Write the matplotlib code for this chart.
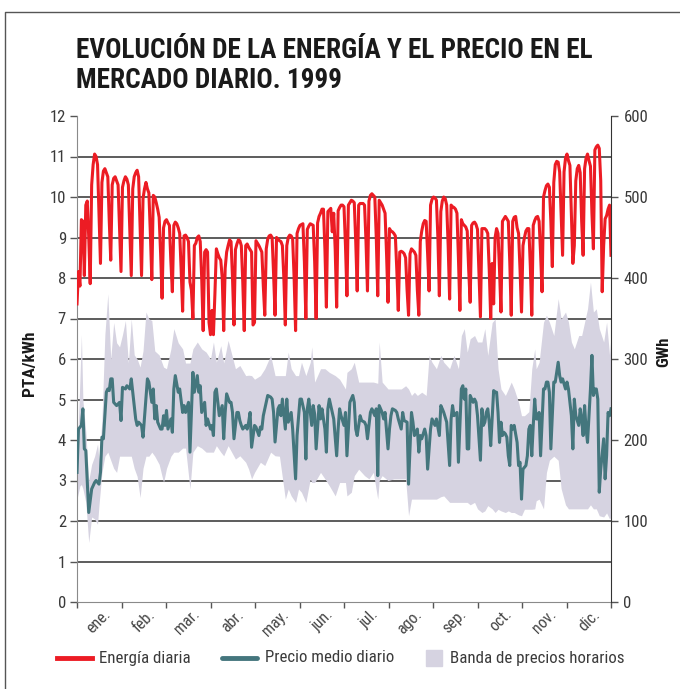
import os
import matplotlib.pyplot as plt
from matplotlib import font_manager
from matplotlib.font_manager import FontProperties
from matplotlib.lines import Line2D
from matplotlib.patches import Rectangle
import numpy as np

meses = ["ene.", "feb.", "mar.", "abr.", "may.", "jun.",
         "jul.", "ago.", "sep.", "oct.", "nov.", "dic."]

# Energia diaria (GWh), 1999, un valor por dia
energia_ene = [368, 408, 390, 472, 470, 403, 490, 495, 450, 393, 515, 540, 553, 550, 540, 480,
               418, 518, 532, 535, 530, 525, 470, 422, 515, 523, 525, 520, 515, 460, 408]
energia_feb = [512, 520, 525, 522, 515, 460, 403, 510, 525, 530, 533, 525, 465, 403,
               498, 510, 518, 510, 505, 455, 398, 502, 500, 493, 485, 475, 430, 375]
energia_mar = [462, 470, 472, 468, 465, 420, 383, 465, 469, 467, 462, 455, 410, 359, 452, 453,
               450, 445, 395, 385, 350, 440, 443, 450, 452, 445, 400, 335, 432, 435, 432]
energia_abr = [345, 330, 360, 330, 380, 436, 430, 425, 422, 400, 335, 412, 432, 440, 447,
               445, 400, 342, 435, 442, 447, 446, 440, 395, 335, 440, 442, 438, 435, 432]
energia_may = [342, 345, 446, 443, 440, 436, 432, 390, 354, 436, 448, 452, 453, 450, 405, 354,
               450, 448, 446, 445, 440, 400, 342, 440, 450, 453, 452, 448, 400, 335, 455]
energia_jun = [461, 465, 466, 467, 420, 350, 460, 464, 467, 466, 465, 420, 350, 468, 476,
               480, 485, 485, 435, 364, 482, 484, 486, 457, 480, 435, 364, 483, 487, 490]
energia_jul = [490, 488, 440, 378, 490, 493, 496, 495, 493, 445, 384, 490, 492, 492, 492, 490,
               445, 384, 495, 502, 504, 502, 500, 450, 378, 496, 493, 490, 485, 480, 430]
energia_ago = [370, 461, 458, 457, 455, 452, 410, 360, 432, 433, 432, 430, 425, 385, 354, 430,
               436, 434, 432, 428, 385, 354, 445, 458, 467, 471, 470, 430, 384, 490, 497]
energia_sep = [500, 499, 496, 450, 378, 482, 495, 500, 498, 490, 440, 374, 490, 488, 487,
               485, 480, 425, 360, 472, 467, 465, 463, 458, 410, 370, 465, 468, 469, 466]
energia_oct = [460, 405, 352, 461, 461, 461, 459, 455, 410, 350, 418, 368, 450, 461, 455, 410,
               358, 470, 473, 476, 473, 470, 420, 354, 470, 475, 476, 462, 455, 410, 358]
energia_nov = [440, 450, 458, 461, 461, 415, 354, 465, 471, 475, 476, 470, 430, 383, 500,
               508, 514, 516, 512, 470, 414, 518, 540, 544, 543, 531, 480, 428, 531, 548]
energia_dic = [553, 545, 539, 480, 418, 440, 520, 535, 539, 530, 470, 428, 535, 548, 553, 545,
               538, 480, 436, 558, 562, 564, 560, 520, 383, 440, 473, 477, 485, 490, 428]

energia = (energia_ene + energia_feb + energia_mar + energia_abr + energia_may + energia_jun +
           energia_jul + energia_ago + energia_sep + energia_oct + energia_nov + energia_dic)
dias = np.arange(len(energia))

# Precio medio diario (PTA/kWh): dia del ano y valor
precio_dia = [0, 1, 3, 4, 5, 6, 8, 10, 12, 13, 15, 16, 17, 18, 20, 21, 22, 23, 24, 25, 27, 29, 30,
              31, 33, 34, 36, 37, 38, 40, 41, 42, 44, 45, 47, 48, 49, 50, 51, 52, 53, 54, 55, 57,
              58, 59, 60, 61, 62, 64, 65, 66, 67, 69, 70, 72, 73, 74, 76, 77, 79, 80, 82, 83, 84,
              85, 87, 88, 89, 91, 92, 93, 94, 95, 96, 97, 99, 100, 101, 102, 104, 105, 106, 107,
              109, 110, 111, 112, 113, 115, 116, 117, 118, 119, 121, 122, 124, 125, 126, 127, 129,
              130, 132, 133, 134, 135, 137, 138, 139, 140, 142, 143, 144, 146, 147, 149, 150, 152,
              153, 155, 156, 157, 158, 160, 161, 162, 163, 165, 166, 167, 169, 170, 171, 172, 174,
              175, 177, 178, 179, 180, 182, 183, 184, 186, 188, 189, 190, 191, 193, 194, 196, 197,
              198, 200, 201, 203, 204, 205, 206, 208, 209, 210, 212, 213, 214, 215, 217, 218, 219,
              221, 222, 223, 225, 226, 228, 229, 230, 232, 233, 234, 235, 237, 238, 239, 241, 242,
              244, 245, 247, 248, 249, 250, 252, 254, 255, 256, 257, 259, 260, 262, 263, 264, 265,
              266, 267, 268, 270, 271, 272, 273, 275, 276, 277, 278, 279, 280, 281, 282, 284, 285,
              286, 287, 288, 289, 290, 291, 292, 293, 294, 295, 296, 297, 298, 300, 301, 302, 303,
              304, 306, 307, 308, 309, 310, 311, 312, 313, 314, 315, 316, 317, 318, 319, 320, 321,
              322, 323, 325, 326, 327, 328, 329, 330, 331, 333, 334, 335, 336, 337, 338, 339, 340,
              342, 343, 344, 345, 346, 347, 348, 350, 351, 352, 353, 354, 355, 356, 357, 359, 360,
              361, 362, 363, 364]
precio = [3.20, 4.27, 4.36, 4.77, 3.78, 3.74, 2.21, 2.79, 2.95, 3.00, 2.91, 3.20, 4.07, 4.03, 5.18,
          5.26, 5.22, 5.51, 5.51, 4.93, 4.85, 4.93, 4.48, 5.30, 5.26, 5.34, 5.26, 5.51, 5.18, 4.52,
          4.36, 4.44, 4.36, 4.07, 5.01, 5.51, 5.43, 5.18, 4.93, 5.26, 4.52, 4.85, 4.44, 4.27, 4.27,
          4.60, 4.36, 4.73, 4.27, 4.52, 4.19, 5.26, 5.59, 5.18, 5.26, 4.68, 4.85, 4.68, 4.93, 3.70,
          5.67, 5.18, 5.59, 5.18, 5.34, 4.68, 4.93, 4.36, 4.52, 4.27, 4.36, 4.11, 5.18, 5.26, 4.93,
          4.60, 4.85, 4.03, 4.68, 5.14, 4.93, 4.93, 4.68, 4.03, 4.68, 4.68, 4.48, 4.36, 4.27, 4.36,
          4.27, 4.44, 4.68, 3.82, 4.36, 4.32, 4.11, 4.32, 4.27, 4.60, 4.93, 5.10, 5.06, 5.01, 4.68,
          3.95, 4.77, 4.85, 4.60, 5.01, 4.27, 5.01, 4.44, 4.68, 4.27, 3.04, 4.11, 5.01, 5.01, 4.68,
          3.53, 4.77, 5.01, 4.36, 4.85, 4.64, 3.78, 4.85, 4.52, 4.77, 4.27, 3.70, 4.77, 5.01, 4.68,
          4.52, 3.61, 4.27, 4.77, 4.60, 4.36, 4.68, 3.61, 4.93, 5.10, 4.93, 4.27, 4.11, 4.60, 4.48,
          4.44, 4.36, 4.03, 4.68, 4.77, 4.60, 4.77, 3.12, 4.85, 4.68, 4.52, 4.68, 3.78, 4.27, 4.60,
          4.77, 4.73, 4.68, 4.52, 4.27, 4.68, 4.48, 4.44, 2.91, 4.68, 4.44, 4.11, 4.27, 3.70, 4.11,
          4.03, 4.27, 4.11, 3.28, 4.27, 4.52, 4.36, 4.52, 4.11, 4.85, 4.77, 4.68, 4.44, 3.37, 4.52,
          4.85, 4.60, 4.68, 3.45, 5.26, 5.34, 5.01, 5.26, 3.78, 3.78, 5.10, 4.93, 5.01, 4.93, 4.60,
          3.50, 4.77, 4.36, 4.44, 4.68, 4.77, 4.44, 3.86, 5.22, 5.18, 5.18, 4.68, 3.94, 4.44, 4.11,
          4.19, 4.15, 4.07, 3.61, 3.37, 4.36, 4.27, 4.36, 3.94, 3.37, 3.45, 2.54, 3.28, 3.37, 3.61,
          4.27, 4.36, 3.61, 4.36, 5.01, 4.52, 4.52, 4.68, 3.61, 4.44, 5.26, 5.26, 5.43, 5.43, 5.18,
          3.78, 5.43, 5.43, 5.67, 5.92, 5.59, 5.43, 5.51, 5.26, 5.43, 5.26, 4.93, 4.60, 3.78, 5.01,
          4.60, 4.36, 4.77, 4.52, 4.11, 4.85, 4.27, 3.94, 5.26, 6.09, 5.10, 5.26, 5.26, 5.01, 2.71,
          3.28, 4.03, 3.04, 3.61, 4.68, 4.60, 4.77]

# Banda de precios horarios (minimo y maximo del dia, PTA/kWh)
banda_dia = [0, 2, 3, 4, 6, 8, 10, 12, 14, 15, 17, 19, 21, 23, 25, 27, 29, 31, 33, 35, 37, 39, 41,
             43, 45, 47, 49, 51, 53, 56, 59, 61, 64, 66, 69, 72, 74, 77, 79, 82, 85, 88, 91, 93,
             95, 98, 100, 103, 108, 111, 115, 117, 119, 121, 125, 128, 132, 135, 138, 142, 144,
             146, 149, 151, 153, 156, 159, 160, 162, 166, 169, 172, 176, 179, 183, 184, 187, 189,
             192, 196, 199, 202, 205, 206, 208, 212, 216, 221, 224, 226, 228, 230, 232, 235, 238,
             240, 242, 245, 248, 250, 254, 257, 260, 262, 264, 266, 268, 271, 273, 276, 278, 280,
             283, 285, 287, 289, 292, 294, 296, 298, 301, 303, 305, 308, 310, 312, 313, 315, 318,
             320, 322, 325, 328, 330, 333, 335, 337, 339, 342, 344, 346, 348, 350, 352, 354, 356,
             359, 361, 363, 364]
banda_min = [2.54, 2.87, 2.90, 2.80, 2.46, 1.47, 2.10, 2.05, 1.92, 2.40, 3.20, 3.60, 3.70, 3.50,
             3.30, 3.20, 3.60, 3.60, 3.60, 3.60, 3.60, 3.30, 3.10, 2.58, 3.30, 3.60, 3.60, 3.70,
             3.60, 3.40, 2.95, 3.30, 3.60, 3.70, 3.70, 3.80, 3.80, 2.79, 3.70, 3.86, 3.80, 3.70,
             3.70, 3.70, 3.86, 3.70, 3.61, 3.86, 3.53, 3.61, 3.45, 3.28, 3.04, 3.20, 3.45, 3.37,
             3.70, 3.61, 3.60, 2.54, 2.79, 2.62, 2.46, 2.79, 2.71, 2.46, 3.04, 2.95, 2.95, 3.20,
             3.04, 2.87, 2.62, 2.95, 2.95, 2.62, 2.71, 3.12, 3.28, 3.12, 3.04, 3.20, 2.54, 3.00,
             3.12, 3.00, 3.04, 3.04, 3.04, 2.13, 2.54, 2.54, 2.54, 2.54, 2.54, 2.54, 2.54, 2.54,
             2.60, 2.62, 2.46, 2.46, 2.46, 2.46, 2.46, 2.46, 2.40, 2.46, 2.30, 2.21, 2.25, 2.38,
             2.30, 2.21, 2.29, 2.25, 2.21, 2.25, 2.21, 2.21, 2.15, 2.13, 2.29, 2.29, 2.29, 2.30,
             2.50, 2.54, 2.30, 3.20, 3.50, 3.60, 3.50, 2.80, 2.40, 2.30, 2.30, 2.30, 2.30, 2.30,
             2.30, 2.30, 2.40, 2.30, 2.30, 2.13, 2.10, 2.20, 2.05, 2.10]
banda_max = [3.50, 5.50, 6.60, 5.00, 4.20, 3.00, 3.40, 3.60, 3.90, 3.50, 4.50, 6.60, 7.61, 6.00,
             6.90, 6.40, 6.30, 6.60, 6.95, 5.90, 6.99, 6.10, 6.00, 5.80, 6.20, 7.16, 6.99, 6.95,
             6.20, 6.10, 5.80, 5.76, 6.25, 6.75, 6.40, 6.25, 5.90, 5.90, 6.25, 6.42, 6.25, 6.17,
             6.00, 6.42, 5.92, 6.33, 5.90, 6.46, 5.76, 5.84, 5.59, 5.60, 5.59, 5.50, 5.59, 5.76,
             6.09, 5.59, 5.59, 5.59, 6.17, 5.76, 5.59, 5.59, 5.92, 5.59, 5.92, 6.30, 5.43, 5.76,
             5.76, 5.67, 5.59, 5.50, 5.26, 5.67, 5.76, 5.92, 5.43, 5.43, 5.43, 5.43, 5.40, 6.42,
             5.43, 5.26, 5.26, 5.26, 5.34, 5.26, 5.10, 5.18, 5.10, 5.18, 5.10, 6.09, 5.92, 5.76,
             6.09, 5.92, 5.76, 6.09, 5.76, 6.58, 6.75, 6.17, 6.50, 6.58, 6.42, 6.42, 6.75, 6.09,
             6.90, 6.99, 5.76, 5.26, 5.10, 5.26, 5.43, 5.26, 4.93, 4.60, 4.60, 4.70, 5.76, 6.25,
             5.76, 5.92, 6.91, 7.08, 6.91, 6.58, 7.49, 6.99, 7.16, 6.91, 6.42, 6.25, 6.58, 6.58,
             6.91, 7.24, 7.90, 7.16, 7.24, 6.75, 6.42, 6.91, 6.09, 6.58]

rojo = '#ec1c24'
verde = '#44767d'
lila = '#d6d3e1'
gris = '#3a3a3a'


def fuente(nombres, familia, peso):
    # busca un archivo de fuente estrecha; si no hay, usa la familia indicada
    for n in nombres:
        for f in font_manager.fontManager.ttflist:
            if os.path.splitext(os.path.basename(f.fname))[0] == n:
                return FontProperties(fname=f.fname)
    return FontProperties(family=familia, weight=peso)


f_normal = fuente(['LiberationSansNarrow-Regular', 'RobotoCondensed-Regular',
                   'NotoSans-Condensed', 'NotoSans-SemiCondensed', 'OpenSans-CondensedRegular'],
                  'Roboto', 'normal')
f_negrita = fuente(['LiberationSansNarrow-Bold', 'RobotoCondensed-Bold',
                    'NotoSans-CondensedBold', 'NotoSans-SemiCondensedBold',
                    'OpenSans-CondensedBold'], 'Roboto', 'bold')


def fp(base, size):
    p = base.copy()
    p.set_size(size)
    return p


fig = plt.figure(figsize=(6.8, 6.89), dpi=100)
W, H = 680.0, 689.0


def fx(x):
    return x / W


def fy(y):
    return 1 - y / H


ax = fig.add_axes([fx(77), fy(602), fx(611) - fx(77), fy(116) - fy(602)])
ax2 = ax.twinx()

for y in range(1, 12):
    ax.axhline(y, color='#303030', lw=1.1, zorder=1)
ax.fill_between(banda_dia, banda_min, banda_max, color=lila, lw=0, zorder=2)
ax.plot(precio_dia, precio, color=verde, lw=2.2, zorder=3, solid_joinstyle='round')
ax2.plot(dias, energia, color=rojo, lw=2.2, solid_joinstyle='round')

ax.set_xlim(0, 364)
ax.set_ylim(0, 12)
ax2.set_ylim(0, 600)
ax.set_yticks(range(13))
ax.set_yticklabels([str(v) for v in range(13)], fontproperties=fp(f_normal, 12))
ax2.set_yticks(range(0, 601, 100))
ax2.set_yticklabels([str(v) for v in range(0, 601, 100)], fontproperties=fp(f_normal, 12))
ax.set_xticks(np.linspace(0, 364, 13))
ax.set_xticklabels([])

ax.tick_params(axis='y', direction='out', length=5, width=1, color='#555555',
               labelcolor=gris, pad=3)
ax2.tick_params(axis='y', direction='out', length=5, width=1, color='#555555',
                labelcolor=gris, pad=4)
ax.tick_params(axis='x', direction='out', length=4, width=1, color='#555555')

ax.spines['top'].set_visible(False)
ax2.spines['top'].set_visible(False)
ax.spines['left'].set_color('#8a8a8a')
ax.spines['bottom'].set_color('#8a8a8a')
ax2.spines['right'].set_color('#333333')
ax2.spines['left'].set_visible(False)
ax2.spines['bottom'].set_visible(False)
ax.spines['right'].set_visible(False)

# Etiquetas de mes, giradas y centradas en cada intervalo
for k, m in enumerate(meses):
    mid = 364 * (k + 0.5) / 12
    ax.annotate(m, xy=(mid, 0), xycoords='data', xytext=(9, -10),
                textcoords='offset pixels', rotation=45, ha='right', va='center',
                rotation_mode='anchor', fontproperties=fp(f_normal, 11.5), color='#444444',
                annotation_clip=False)

# Titulo
fig.text(fx(76), fy(50), "EVOLUCIÓN DE LA ENERGÍA Y EL PRECIO EN EL",
         fontproperties=fp(f_negrita, 19.6), color='#1a1a1a', va='center', ha='left')
fig.text(fx(76), fy(80), "MERCADO DIARIO. 1999",
         fontproperties=fp(f_negrita, 19.6), color='#1a1a1a', va='center', ha='left')

fig.text(fx(29), fy(363), "PTA/kWh", rotation=90, fontproperties=fp(f_negrita, 12.5),
         ha='center', va='center', color='#1a1a1a')
fig.text(fx(664), fy(352), "GWh", rotation=90, fontproperties=fp(f_negrita, 12),
         ha='center', va='center', color='#1a1a1a')

# Leyenda
fig.add_artist(Line2D([fx(57), fx(92)], [fy(658), fy(658)], color=rojo, lw=3.5,
                      transform=fig.transFigure))
fig.text(fx(99), fy(658), "Energía diaria", fontproperties=fp(f_normal, 12.2),
         color=gris, va='center')
fig.add_artist(Line2D([fx(222), fx(257)], [fy(658), fy(658)], color=verde, lw=3.5,
                      solid_capstyle='round', transform=fig.transFigure))
fig.text(fx(265), fy(658), "Precio medio diario", fontproperties=fp(f_normal, 12.2),
         color=gris, va='center')
fig.add_artist(Rectangle((fx(426), fy(666)), fx(16), 16 / H, color=lila,
                         transform=fig.transFigure))
fig.text(fx(450), fy(658), "Banda de precios horarios", fontproperties=fp(f_normal, 12.2),
         color=gris, va='center')

# Marco
fig.add_artist(Line2D([fx(5), fx(5), 1], [0, fy(12), fy(12)], color='#555555', lw=1,
                      transform=fig.transFigure))

fig.savefig("out.png", dpi=100)
